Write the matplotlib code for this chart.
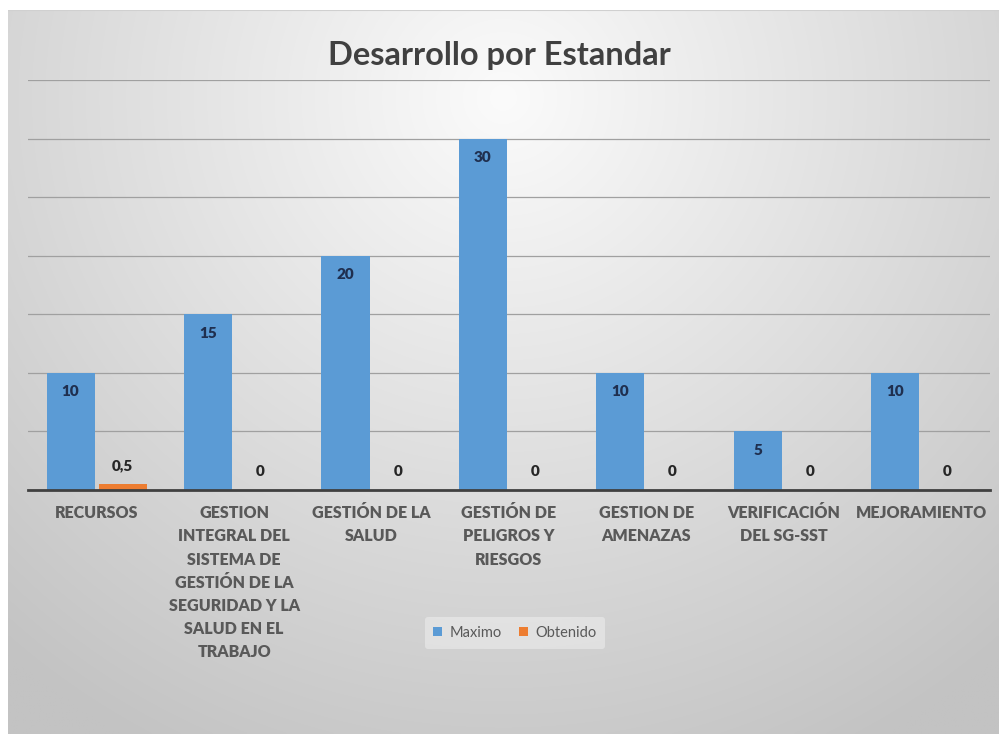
import numpy as np
import matplotlib
matplotlib.use("Agg")
import matplotlib.pyplot as plt

# datos del grafico
categorias = [
    "RECURSOS",
    "GESTION\nINTEGRAL DEL\nSISTEMA DE\nGESTIÓN DE LA\nSEGURIDAD Y LA\nSALUD EN EL\nTRABAJO",
    "GESTIÓN DE LA\nSALUD",
    "GESTIÓN DE\nPELIGROS Y\nRIESGOS",
    "GESTION DE\nAMENAZAS",
    "VERIFICACIÓN\nDEL SG-SST",
    "MEJORAMIENTO",
]
maximo = [10, 15, 20, 30, 10, 5, 10]
obtenido = [0.5, 0, 0, 0, 0, 0, 0]

plt.rcParams['font.family'] = ['Lato', 'DejaVu Sans']

fig = plt.figure(figsize=(9.99, 7.34), dpi=100)
fig.patch.set_facecolor('white')

# fondo con degradado (area del grafico)
bg = fig.add_axes([8 / 999, 0, 991 / 999, 724 / 734])
gx, gy = np.meshgrid(np.linspace(0, 1, 300), np.linspace(0, 1, 300))
r = np.sqrt(((gx - 0.5) / 0.75) ** 2 + ((gy - 0.88) / 1.0) ** 2)
val = np.clip(251 - 55 * r, 195, 251) / 255.0
img = np.dstack([val, val, val])
bg.imshow(img, origin='lower', extent=[0, 1, 0, 1], aspect='auto', interpolation='bilinear')
bg.plot([0, 1], [1, 1], color='#d0d0d0', lw=1.5)
bg.set_xlim(0, 1)
bg.set_ylim(0, 1)
bg.axis('off')

ax = fig.add_axes([28 / 999, 244 / 734, 962 / 999, 410 / 734])
ax.set_facecolor('none')

x = np.arange(len(categorias))
w = 0.35
off = 0.19
b1 = ax.bar(x - off, maximo, w, color='#5b9bd5', label='Maximo', zorder=3)
b2 = ax.bar(x + off, obtenido, w, color='#ed7d31', label='Obtenido', zorder=3)

# etiquetas de datos
for xi, v in zip(x, maximo):
    ax.annotate(str(v), (xi - off, v), xytext=(0, -13.5), textcoords='offset points',
                ha='center', va='center', fontsize=11, fontweight='heavy', color='#1f2f4f', zorder=4)
for xi, v in zip(x, obtenido):
    txt = ('%g' % v).replace('.', ',')
    ax.annotate(txt, (xi + off, v), xytext=(0, 13.5), textcoords='offset points',
                ha='center', va='center', fontsize=11, fontweight='heavy', color='#262626', zorder=4)

ax.set_xlim(-0.5, len(categorias) - 0.5)
ax.set_ylim(0, 35)
ax.set_yticks(np.arange(0, 36, 5))
ax.yaxis.grid(True, color='#a0a0a0', linewidth=0.9, zorder=0)
ax.set_axisbelow(True)
ax.tick_params(axis='y', left=False, labelleft=False)
ax.set_xticks(x)
ax.set_xticklabels(categorias, fontsize=11.5, fontweight='heavy', color='#595959', linespacing=1.55)
ax.tick_params(axis='x', length=0, pad=11)
for s in ['top', 'right', 'left']:
    ax.spines[s].set_visible(False)
ax.spines['bottom'].set_color('#404040')
ax.spines['bottom'].set_linewidth(2)
ax.spines['bottom'].set_zorder(5)

fig.text(0.5, 1 - 55 / 734, "Desarrollo por Estandar", ha='center', va='center',
         fontsize=23.5, fontweight='bold', color='#404040')

leg = fig.legend(loc='center', bbox_to_anchor=(515 / 999, 1 - 633 / 734), ncol=2,
                 frameon=True, fontsize=10.5, handlelength=0.6, handleheight=0.6,
                 handletextpad=0.5, columnspacing=1.2, borderpad=0.6)
leg.get_frame().set_facecolor('white')
leg.get_frame().set_alpha(0.35)
leg.get_frame().set_edgecolor('none')
for t in leg.get_texts():
    t.set_color('#595959')

fig.savefig('out.png', dpi=100)
